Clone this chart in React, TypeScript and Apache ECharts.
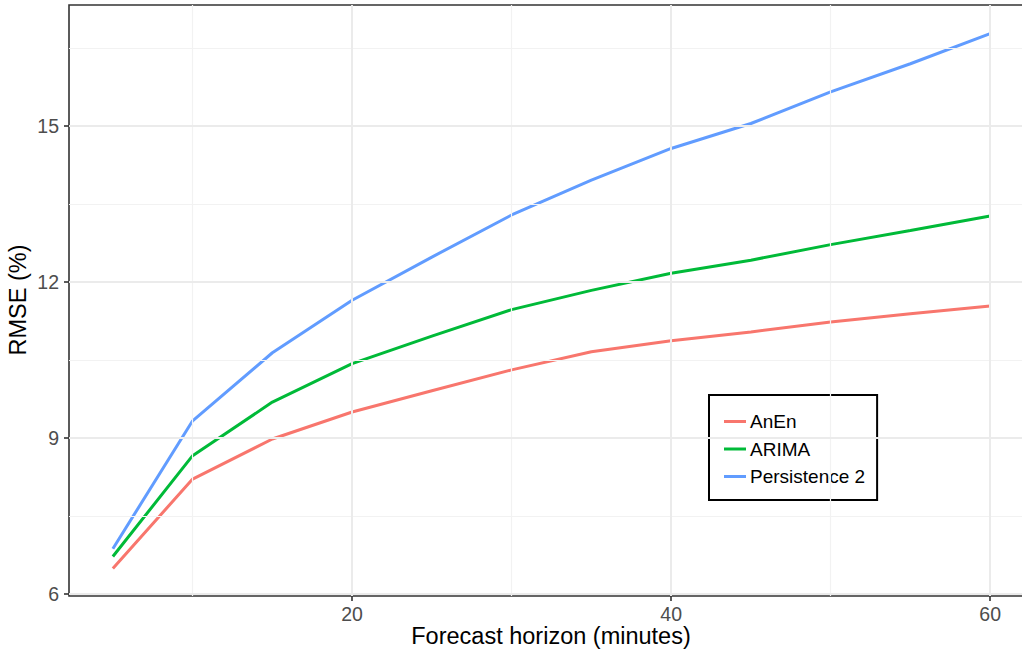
import React, { useEffect, useRef } from "react";
import * as echarts from "echarts";

const horizons = [5, 10, 15, 20, 25, 30, 35, 40, 45, 50, 55, 60];
const anEn = [6.49, 8.21, 8.98, 9.5, 9.91, 10.31, 10.66, 10.87, 11.04, 11.23, 11.39, 11.54];
const arima = [6.72, 8.66, 9.69, 10.43, 10.96, 11.47, 11.84, 12.17, 12.42, 12.72, 12.99, 13.27];
const persistence2 = [6.87, 9.33, 10.64, 11.65, 12.48, 13.29, 13.96, 14.57, 15.05, 15.66, 16.2, 16.78];

const seriesNames = ["AnEn", "ARIMA", "Persistence 2"];
const seriesColors = ["#F8766D", "#00BA38", "#619CFF"];

const xTicks = [20, 40, 60];
const xMinor = [10, 30, 50];
const yTicks = [6, 9, 12, 15];
const yMinor = [7.5, 10.5, 13.5, 16.5];

const xTitle = "Forecast horizon (minutes)";
const yTitle = "RMSE (%)";

const FONT = "'Liberation Sans', Arial, Helvetica, sans-serif";

export default function App() {
  const ref = useRef<HTMLDivElement>(null);

  useEffect(() => {
    if (!ref.current) return;
    const chart = echarts.init(ref.current, undefined, { renderer: "svg" });

    const allSeries = [anEn, arima, persistence2];
    const lineSeries = allSeries.map((vals, i) => ({
      name: seriesNames[i],
      type: "line",
      data: horizons.map((h, j) => [h, vals[j]]),
      symbol: "none",
      showSymbol: false,
      silent: true,
      z: 3,
      lineStyle: { color: seriesColors[i], width: 3 },
      itemStyle: { color: seriesColors[i] },
      emphasis: { disabled: true },
    }));

    const gridMajor = { color: "#EBEBEB", width: 2, type: "solid" };
    const gridMinor = { color: "#F2F2F2", width: 1.2, type: "solid" };

    const gridSeries = {
      name: "__grid",
      type: "line",
      data: [[horizons[0], anEn[0]]],
      symbol: "none",
      silent: true,
      z: 1,
      lineStyle: { opacity: 0 },
      markLine: {
        silent: true,
        symbol: ["none", "none"],
        label: { show: false },
        animation: false,
        emphasis: { disabled: true },
        data: [
          ...xMinor.map((v) => ({ xAxis: v, lineStyle: gridMinor })),
          ...yMinor.map((v) => ({ yAxis: v, lineStyle: gridMinor })),
          ...xTicks.map((v) => ({ xAxis: v, lineStyle: gridMajor })),
          ...yTicks.map((v) => ({ yAxis: v, lineStyle: gridMajor })),
        ],
      },
    };

    chart.setOption({
      animation: false,
      backgroundColor: "#ffffff",
      textStyle: { fontFamily: FONT },
      grid: {
        left: 69,
        top: 5,
        width: 965,
        height: 591,
        containLabel: false,
        outerBoundsMode: "none",
        show: true,
        backgroundColor: "#ffffff",
        borderColor: "#333333",
        borderWidth: 1.6,
      },
      xAxis: {
        type: "value",
        min: 2.25,
        max: 62.75,
        splitLine: { show: false },
        axisLine: { show: false },
        axisTick: {
          show: true,
          customValues: xTicks,
          length: 5,
          lineStyle: { color: "#333333", width: 1.6 },
        },
        axisLabel: {
          customValues: xTicks,
          color: "#4D4D4D",
          fontSize: 19.5,
          fontFamily: FONT,
          margin: 8,
        },
      },
      yAxis: {
        type: "value",
        min: 5.96,
        max: 17.33,
        splitLine: { show: false },
        axisLine: { show: false },
        axisTick: {
          show: true,
          customValues: yTicks,
          length: 5,
          lineStyle: { color: "#333333", width: 1.6 },
        },
        axisLabel: {
          customValues: yTicks,
          color: "#4D4D4D",
          fontSize: 19.5,
          fontFamily: FONT,
          margin: 10,
        },
      },
      legend: {
        data: seriesNames,
        orient: "vertical",
        left: 709,
        top: 395,
        backgroundColor: "#ffffff",
        borderColor: "#000000",
        borderWidth: 2,
        borderRadius: 0,
        padding: [17, 12, 14, 15],
        itemGap: 8.5,
        itemWidth: 22,
        itemHeight: 3,
        icon: "rect",
        selectedMode: false,
        textStyle: {
          color: "#000000",
          fontSize: 19,
          lineHeight: 19,
          fontFamily: FONT,
          padding: [0, 0, 0, -1],
        },
      },
      graphic: [
        {
          type: "text",
          x: 551,
          y: 636,
          style: {
            text: xTitle,
            x: 0,
            y: 0,
            fill: "#000000",
            font: `23.5px ${FONT}`,
            textAlign: "center",
            textVerticalAlign: "middle",
          },
        },
        {
          type: "text",
          x: 18,
          y: 300,
          rotation: Math.PI / 2,
          style: {
            text: yTitle,
            x: 0,
            y: 0,
            fill: "#000000",
            font: `23.5px ${FONT}`,
            textAlign: "center",
            textVerticalAlign: "middle",
          },
        },
      ],
      series: [gridSeries, ...lineSeries],
    });

    return () => {
      chart.dispose();
    };
  }, []);

  return (
    <div
      ref={ref}
      style={{ position: "absolute", left: 0, top: 0, width: 1022, height: 652 }}
    />
  );
}
